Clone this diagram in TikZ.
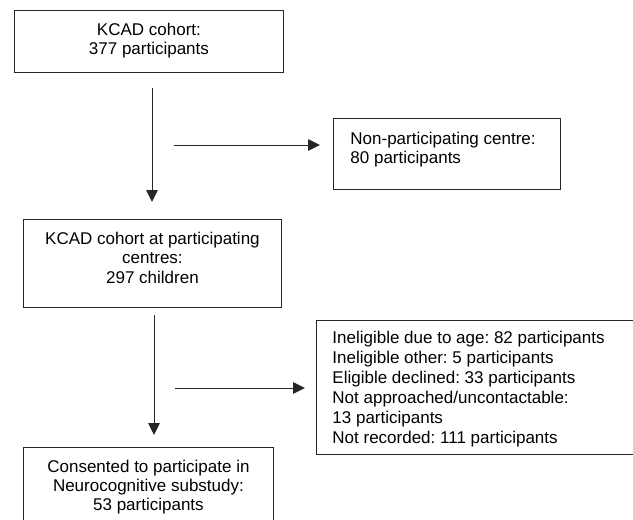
\documentclass[tikz,border=0pt]{standalone}
\usepackage{fontspec}
\setmainfont{Liberation Sans}
\usetikzlibrary{arrows.meta}
\frenchspacing
\begin{document}
\begin{tikzpicture}[x=1pt,y=-1pt,
  box/.style={draw=black!85, line width=0.9pt, inner sep=0pt, anchor=north west,
    font=\fontsize{17}{19.5}\selectfont},
  flow/.style={draw=black!85, line width=0.9pt, -{Triangle[length=12pt,width=11.5pt]}}]
\useasboundingbox (0,0) rectangle (633,520);
\clip (0,0) rectangle (633,520);
\fill[white] (0,0) rectangle (633,520);
% boxes
\node[box] (cohort) at (14,10)
  {\parbox[c][62pt][t]{269pt}{\centering\rule{0pt}{25pt}KCAD cohort:\\377 participants}};
\node[box] (nonpart) at (333,118)
  {\parbox[c][71pt][t]{227pt}{\raggedright\leftskip=17pt\rule{0pt}{26pt}Non-participating centre:\\80 participants}};
\node[box] (centres) at (23,219)
  {\parbox[c][88pt][t]{258pt}{\centering\rule{0pt}{25pt}KCAD cohort at participating\\centres:\\297 children}};
\node[box] (excluded) at (316,320)
  {\parbox[c][134pt][t]{380pt}{\raggedright\leftskip=16pt\baselineskip=20pt\rule{0pt}{23pt}Ineligible due to age: 82 participants\\Ineligible other: 5 participants\\Eligible declined: 33 participants\\Not approached/uncontactable:\\13 participants\\Not recorded: 111 participants}};
\node[box] (consented) at (23,447)
  {\parbox[c][100pt][t]{250pt}{\centering\baselineskip=19pt\rule{0pt}{25pt}Consented to participate in\\Neurocognitive substudy:\\53 participants}};
% connectors
\coordinate (a1s) at (152,88);
\coordinate (a1e) at (152,202);
\coordinate (h1s) at (174,145);
\coordinate (h1e) at (320,145);
\coordinate (a2s) at (154,315);
\coordinate (a2e) at (154,435);
\coordinate (h2s) at (175,388);
\coordinate (h2e) at (305,388);
\draw[flow] (a1s) -- (a1e);
\draw[flow] (h1s) -- (h1e);
\draw[flow] (a2s) -- (a2e);
\draw[flow] (h2s) -- (h2e);
\end{tikzpicture}
\end{document}
